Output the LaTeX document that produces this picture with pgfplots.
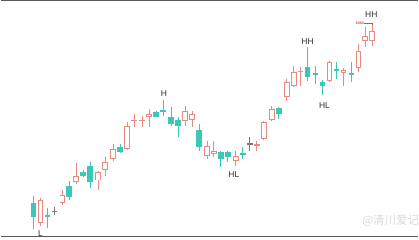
\documentclass[border=0pt]{standalone}
\usepackage{pgfplots}
\pgfplotsset{compat=1.18}
\usepackage{pgfplotstable}
\usepackage{fontspec}
\setmainfont{Liberation Sans}
\newfontfamily\cjk{Noto Sans CJK SC}
\definecolor{up}{RGB}{232,138,128}
\definecolor{dn}{RGB}{60,200,184}
\definecolor{crossc}{RGB}{120,120,120}
\definecolor{lbl}{RGB}{45,45,45}
\definecolor{pricered}{RGB}{228,70,70}
% columns: x, wick top, body top, body bottom, wick bottom (pixel rows, y axis reversed)
\pgfplotstableread{
x wt bt bb wb
33 198 205 219 231
47 210 217 219 230
69 183 188 199 202
83 171 173 177 178
90 163 167 184 190
120 145 148 153 154
156 112 113 118 118
163 101 111 113 117
171 108 118 125 127
178 118 121 127 138
199 125 131 148 152
221 152 153 160 168
228 152 153 158 163
243 148 154 156 160
279 108 109 115 120
308 48 68 78 82
316 67 74 76 85
323 81 83 87 96
337 63 70.5 72 80
352 63 74.5 76 83
}\tealtab
\pgfplotstableread{
x wt bt bb wb
40 200 202 225 228
62 192 197 205 207
76 164 177 184 186
98 172 173 182 192
105 158 163 171 177
113 145 150 160 162
127 123 127 150 151
149 110 115 118 128
185 107 112 122 127
192 112 115 121 128
207 142 147 157 160
214 142 152 155 158
236 152 157 162 167
264 122 123 140 141
272 107 110 121 122
287 80 83 98 102
294 67 73 87 88
330 62 63 82 83
344 69 71 74 87
359 45 52 69 73
366 28 37 42 48
373 26 32 42 47
}\pinktab
\pgfplotstableread{
x wt bt bb wb
134 115 121 122.5 128
142 117 121 122.5 128
257 142 145.5 147 152
301 68 72 73.5 87
}\pinkdoji
\pgfplotstableread{
x wt bt bb wb
54 209 212.5 214 217
250 138 144.5 146 152
}\graytab
\pgfplotsset{
  wick/.style={draw=none, mark=none, forget plot,
    error bars/.cd, y dir=plus, y explicit, error mark=none,
    error bar style={draw=#1, line width=0.8pt}},
  body/.style 2 args={draw=none, mark=none, forget plot,
    error bars/.cd, y dir=plus, y explicit, error mark=none,
    error bar style={draw=#1, line width=#2}},
}
\begin{document}
\begin{tikzpicture}
\begin{axis}[
  width=419pt, height=240pt, scale only axis,
  xmin=0, xmax=419, ymin=0, ymax=240, y dir=reverse,
  axis lines=none, ticks=none, clip=false,
  font=\fontsize{8.5}{9}\selectfont,
]
% wicks
\addplot[wick=dn] table[x=x, y=wt, y error expr=\thisrow{wb}-\thisrow{wt}] \tealtab;
\addplot[wick=up] table[x=x, y=wt, y error expr=\thisrow{wb}-\thisrow{wt}] \pinktab;
\addplot[wick=up] table[x=x, y=wt, y error expr=\thisrow{wb}-\thisrow{wt}] \pinkdoji;
\addplot[wick=crossc] table[x=x, y=wt, y error expr=\thisrow{wb}-\thisrow{wt}] \graytab;
% bodies
\addplot[body={dn}{5.8pt}] table[x=x, y=bt, y error expr=\thisrow{bb}-\thisrow{bt}] \tealtab;
\addplot[body={up}{5.8pt}] table[x=x, y=bt, y error expr=\thisrow{bb}-\thisrow{bt}] \pinktab;
\addplot[body={white}{3.8pt}] table[x=x, y expr=\thisrow{bt}+1, y error expr=\thisrow{bb}-\thisrow{bt}-2] \pinktab;
\addplot[body={up}{5.8pt}] table[x=x, y=bt, y error expr=\thisrow{bb}-\thisrow{bt}] \pinkdoji;
\addplot[body={crossc}{5.8pt}] table[x=x, y=bt, y error expr=\thisrow{bb}-\thisrow{bt}] \graytab;
% labels
\node[text=lbl] at (axis cs:40,235) {L};
\node[text=lbl] at (axis cs:164,95) {H};
\node[text=lbl] at (axis cs:234,176) {HL};
\node[text=lbl] at (axis cs:308,43) {HH};
\node[text=lbl] at (axis cs:325,107) {HL};
\node[text=lbl] at (axis cs:372,16) {HH};
\node[text=pricered, font=\fontsize{3.6}{4}\selectfont\bfseries, inner sep=0pt] at (axis cs:360.5,24) {6080};
\draw[pricered, line width=0.5pt] (axis cs:364.5,24) -- (axis cs:373,24) -- (axis cs:373,26);
% watermark
\node[anchor=east, text=black!15, inner sep=0pt] at (axis cs:420,222) {\cjk\fontsize{11.5}{12}\selectfont @清川爱记};
% frame
\draw[black!65, line width=1.2pt] (axis cs:0,1.5) -- (axis cs:419,1.5);
\draw[black!65, line width=1.2pt] (axis cs:0,238.5) -- (axis cs:419,238.5);
\end{axis}
\end{tikzpicture}
\end{document}
